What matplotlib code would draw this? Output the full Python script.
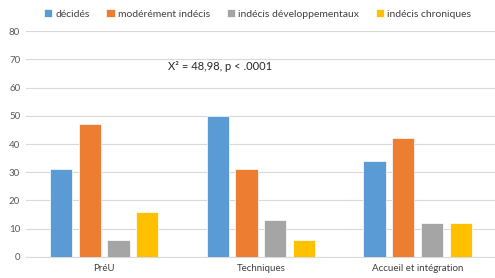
import numpy as np
import matplotlib.pyplot as plt

plt.rcParams['font.family'] = ['Lato', 'DejaVu Sans']

categories = ['PréU', 'Techniques', 'Accueil et intégration']
series_names = ['décidés', 'modérément indécis', 'indécis développementaux', 'indécis chroniques']
decides = [31, 50, 34]
moderes = [47, 31, 42]
developpementaux = [6, 13, 12]
chroniques = [16, 6, 12]
colors = ['#5B9BD5', '#ED7D31', '#A5A5A5', '#FFC000']

fig = plt.figure(figsize=(4.95, 2.78), dpi=100)
ax = fig.add_axes([0.052, 0.076, 0.95, 0.812])

x = np.arange(len(categories))
pitch = 0.183
width = 0.142
for i, vals in enumerate([decides, moderes, developpementaux, chroniques]):
    ax.bar(x + (i - 1.5) * pitch, vals, width, color=colors[i], label=series_names[i],
           edgecolor='white', linewidth=0.5, zorder=3)

ax.set_xlim(-0.5, 2.5)
ax.set_ylim(0, 80)
ax.set_yticks(range(0, 81, 10))
ax.set_xticks(x)
ax.set_xticklabels(categories)
ax.grid(axis='y', color='#D9D9D9', linewidth=0.8, zorder=0)
for s in ['top', 'right', 'left']:
    ax.spines[s].set_visible(False)
ax.spines['bottom'].set_color('#D9D9D9')
ax.tick_params(axis='both', length=0, labelsize=7, colors='#595959', pad=4)
ax.tick_params(axis='x', colors='#404040', pad=5)

ax.text(0.41, 67.3, 'X² = 48,98, p < .0001', fontsize=8, color='#262626', va='center', ha='left')

fig.legend(loc='center', bbox_to_anchor=(0.52, 0.95), ncol=4, frameon=False, fontsize=7.5,
           handlelength=0.8, handleheight=0.8, handletextpad=0.3, columnspacing=1.6,
           labelcolor='#404040')

fig.savefig('out.png', dpi=100)
